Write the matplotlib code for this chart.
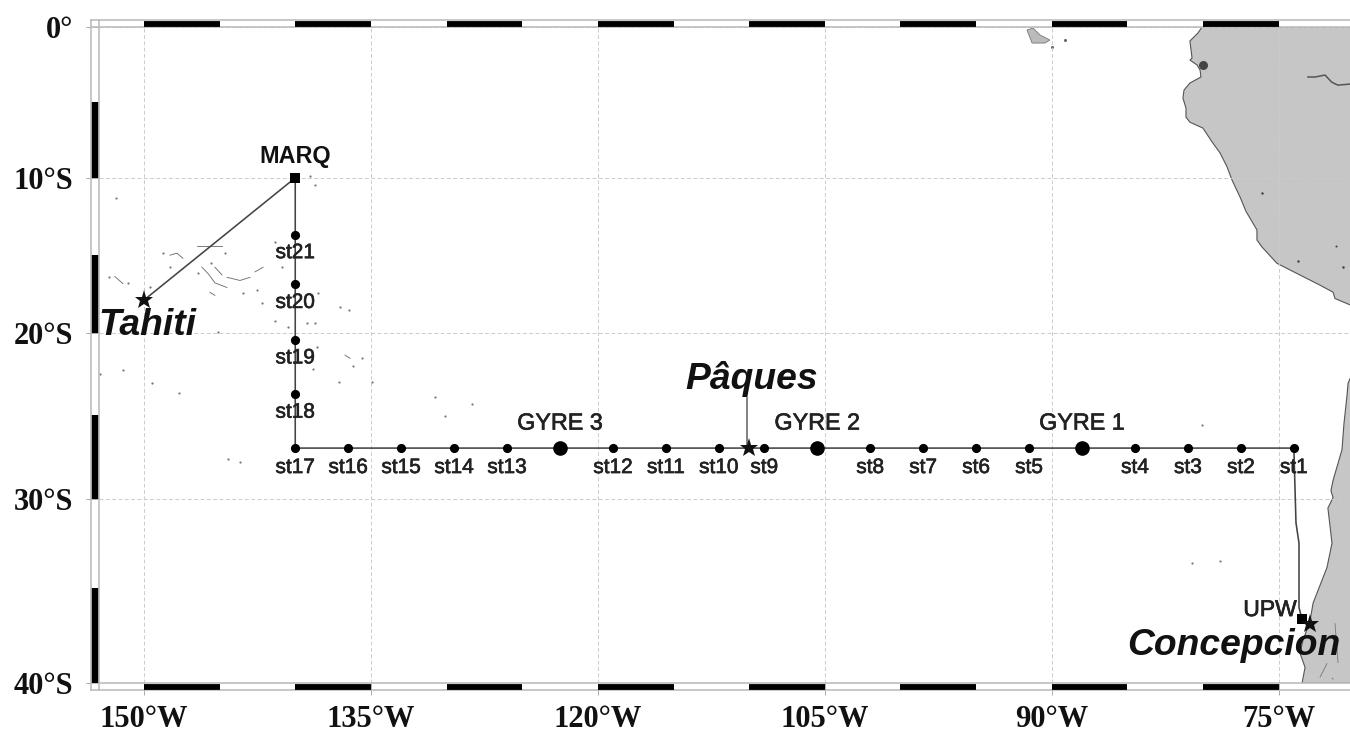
import numpy as np
import matplotlib
matplotlib.use("Agg")
import matplotlib.pyplot as plt
import matplotlib.patheffects as pe
from matplotlib.transforms import blended_transform_factory

# longitudes in degrees east (negative = west), latitudes in degrees south
station_names = ["st1","st2","st3","st4","st5","st6","st7","st8","st9","st10","st11",
                 "st12","st13","st14","st15","st16","st17"]
station_lon = [-74.0,-77.5,-81.0,-84.5,-91.5,-95.0,-98.5,-102.0,-109.0,-112.0,-115.5,
               -119.0,-126.0,-129.5,-133.0,-136.5,-140.0]
station_lat = [27.0]*17
north_names = ["st18","st19","st20","st21"]
north_lon = [-140.0,-140.0,-140.0,-140.0]
north_lat = [23.75,20.4,16.9,13.7]
gyre_names = ["GYRE 1","GYRE 2","GYRE 3"]
gyre_lon = [-88.0,-105.5,-122.5]
gyre_lat = [27.0,27.0,27.0]
marq_lon, marq_lat = -140.0, 10.0
star_names = ["Tahiti","Pâques","Concepcion"]
star_lon = [-150.0,-110.0,-72.93]
star_lat = [17.9,27.0,36.9]
label_lon = [-149.8,-109.84,-77.96]
label_lat = [19.5,22.8,38.05]
upw_lon, upw_lat = -73.46, 36.65
upw_label_lon, upw_label_lat = -75.58, 36.15
route_lon = [-150.0,-140.0,-140.0,-74.0,-73.86,-73.66,-73.66,-73.46,-72.93]
route_lat = [17.9,10.0,27.0,27.0,31.35,32.5,36.05,36.65,36.9]
paques_stem_lon = [-110.15,-110.15]
paques_stem_lat = [24.0,27.0]

coast_lon = [-80.07,-80.34,-80.87,-80.73,-80.87,-80.4,-80.2,-80.14,-80.87,-81.26,-81.33,-81.13,
             -81.13,-80.87,-80.01,-79.41,-78.88,-78.42,-78.09,-77.56,-77.16,-76.44,-76.44,-76.11,
             -75.12,-73.6,-72.27,-71.41,-71.28,-70.29,-69.5,-69.5,-70.29,-70.42,-70.49,-70.69,-70.82,
             -71.41,-71.55,-71.41,-71.75,-71.48,-71.81,-72.73,-72.93,-73.4,-73.6,-73.26,-73.46,
             -69.5,-69.5]
coast_lat = [0.0,0.4,0.93,2.07,2.2,2.53,2.87,3.33,3.73,4.2,4.73,5.4,
             6.0,6.33,6.72,7.63,8.36,9.27,10.14,11.25,12.2,13.4,14.05,14.5,
             15.55,16.3,16.95,17.4,17.8,18.2,18.2,22.8,22.8,23.1,23.85,25.55,27.1,
             28.9,29.5,29.9,30.5,32.5,33.85,35.8,36.75,37.8,38.45,39.2,40.0,
             40.0,0.0]
border_lon = [-73.07,-72.6,-71.94,-71.5,-71.1,-70.29]
border_lat = [3.33,3.33,3.2,3.67,3.87,3.8]
land_marks = [([-71.28,-71.08],[36.9,38.95]),
              ([-72.27,-71.81],[39.7,39.0]),
              ([-71.48,-71.4],[39.75,39.8])]
land_dot_lon = [-80.0,-76.1,-71.2,-73.7,-70.75]
land_dot_lat = [2.53,11.0,14.45,15.4,15.8]
land_dot_size = [6.5,1.8,1.5,1.8,1.8]

galapagos_lon = [-91.64,-91.24,-90.78,-90.12,-90.45,-91.3]
galapagos_lat = [0.2,0.07,0.53,0.87,1.07,1.07]
galapagos_dot_lon = [-89.97,-89.1]
galapagos_dot_lat = [1.33,0.87]

atoll_lines = [
    ([-148.28,-147.82,-147.42],[15.03,14.9,15.23]),
    ([-146.17,-145.77,-145.31,-144.51],[15.8,16.2,16.8,17.1]),
    ([-145.31,-144.84],[15.8,16.3]),
    ([-144.51,-143.65,-142.99],[16.45,16.65,16.45]),
    ([-142.66,-142.13],[16.1,15.8]),
    ([-151.92,-151.39],[16.4,16.85]),
    ([-146.5,-144.84],[14.45,14.45]),
    ([-145.64,-145.31],[17.4,17.6]),
    ([-136.71,-136.38],[21.35,21.55]),
]
atoll_dot_lon = [-152.31,-151.06,-149.6,-148.74,-148.28,-146.43,-145.57,-144.65,-143.46,-142.53,
                 -142.2,-141.34,-140.88,-138.5,-137.05,-136.45,-141.34,-140.48,-139.23,-138.7,
                 -138.57,-135.59,-136.19,-138.83,-134.93,-152.91,-151.39,-149.47,-147.69,-151.85,
                 -139.03,-138.7,-145.11,-137.11,-130.77,-128.32,-130.11,-144.45,-143.65,-80.07,
                 -80.73,-78.88]
atoll_dot_lat = [16.45,16.8,17.05,14.9,15.8,16.2,15.5,14.9,17.45,17.25,
                 18.1,14.2,15.8,17.45,18.35,18.55,19.2,19.6,19.35,19.35,
                 20.85,21.55,22.05,22.2,23.0,22.5,22.25,23.1,23.7,11.3,
                 9.85,10.5,19.9,23.0,23.95,24.35,25.1,27.65,27.85,25.65,
                 33.6,33.5]

lon_ticks = [-150,-135,-120,-105,-90,-75]
lon_labels = ["150°W","135°W","120°W","105°W","90°W","75°W"]
lat_ticks = [0,10,20,30,40]
lat_labels = ["0°","10°S","20°S","30°S","40°S"]
band_lon_starts = [-150,-140,-130,-120,-110,-100,-90,-80]
band_lat_starts = [5,15,25,35]

SERIF = "Liberation Serif"
SANS = "Liberation Sans"
W, H = 1350, 733
L, R, T, B = 99, 1350, 27, 683

def merc(y):
    y = np.clip(np.asarray(y, dtype=float), -85, 85)
    return np.degrees(np.log(np.tan(np.pi/4 + np.radians(y)/2)))
def imerc(m):
    return np.degrees(2*np.arctan(np.exp(np.radians(np.asarray(m, dtype=float)))) - np.pi/2)

fig = plt.figure(figsize=(W/100, H/100), dpi=100)
ax = fig.add_axes([L/W, (H-B)/H, (R-L)/W, (B-T)/H])
ax.set_yscale("function", functions=(merc, imerc))
ax.set_xlim(-152.97, -70.29)
ax.set_ylim(40, 0)
for s in ax.spines.values():
    s.set_visible(False)

ax.set_xticks(lon_ticks, lon_labels)
ax.set_yticks(lat_ticks, lat_labels)
ax.minorticks_off()
ax.tick_params(axis="x", length=8.6, width=0.7, color="#aaaaaa", pad=7)
ax.tick_params(axis="y", length=9.4, width=0.7, color="#aaaaaa", pad=9)
for t in ax.get_xticklabels() + ax.get_yticklabels():
    t.set_fontfamily(SERIF); t.set_fontweight("bold"); t.set_fontsize(22); t.set_color("#111111")
ax.set_axisbelow(False)
ax.grid(True, color="#cccccc", lw=0.7, ls=(0, (4, 2.5)))

# land
ax.fill(coast_lon, coast_lat, facecolor="#c6c6c6", edgecolor="#555555", lw=0.8, zorder=1)
ax.plot(border_lon, border_lat, color="#555555", lw=1.1, zorder=1.5)
for xs, ys in land_marks:
    ax.plot(xs, ys, color="#777777", lw=0.6, zorder=1.5)
for x, y, s in zip(land_dot_lon, land_dot_lat, land_dot_size):
    ax.plot(x, y, "o", color="#444444", ms=s, mew=0, zorder=1.5)
ax.fill(galapagos_lon, galapagos_lat, facecolor="#bbbbbb", edgecolor="#777777", lw=0.6, zorder=1)
ax.plot(galapagos_dot_lon, galapagos_dot_lat, "o", color="#666666", ms=2.2, mew=0, zorder=1)
for xs, ys in atoll_lines:
    ax.plot(xs, ys, color="#666666", lw=0.6, zorder=1)
ax.plot(atoll_dot_lon, atoll_dot_lat, "o", color="#777777", ms=1.6, mew=0, zorder=1)

# cruise track
ax.plot(route_lon, route_lat, color="#444444", lw=1.15, zorder=3, clip_on=False)
ax.plot(paques_stem_lon, paques_stem_lat, color="#777777", lw=1.3, zorder=3)
ax.plot(station_lon, station_lat, "o", color="black", ms=6.6, mew=0, zorder=4)
ax.plot(north_lon, north_lat, "o", color="black", ms=6.6, mew=0, zorder=4)
ax.plot(gyre_lon, gyre_lat, "o", color="black", ms=10.5, mew=0, zorder=4)
ax.plot(marq_lon, marq_lat, "s", color="black", ms=7.2, mew=0, zorder=4)
ax.plot(upw_lon, upw_lat, "s", color="black", ms=6.6, mew=0, zorder=4)
ax.plot(star_lon, star_lat, "*", color="#111111", ms=14, mew=0, zorder=4)

thick = [pe.withStroke(linewidth=0.45, foreground="#222222")]

def lab(txt, x, y, dy, size):
    ax.annotate(txt, (x, y), xytext=(0, dy), textcoords="offset points", ha="center", va="center",
                family=SANS, fontsize=size, color="#222222", zorder=5, path_effects=thick)

for n, x, y in zip(station_names, station_lon, station_lat):
    lab(n, x, y, -14, 15)
for n, x, y in zip(north_names, north_lon, north_lat):
    lab(n, x, y, -13, 15)
for n, x, y in zip(gyre_names, gyre_lon, gyre_lat):
    lab(n, x, y, 18, 16.8)
ax.annotate("MARQ", (marq_lon, marq_lat), xytext=(0, 15.5), textcoords="offset points", ha="center",
            va="center", family=SANS, fontsize=16.8, color="#111111", fontweight="bold", zorder=5)
ax.text(upw_label_lon, upw_label_lat, "UPW", ha="center", va="center", family=SANS, fontsize=16.5,
        color="#222222", zorder=5, path_effects=thick)
for n, x, y in zip(star_names, label_lon, label_lat):
    ax.text(x, y, n, ha="center", va="center", family=SANS, fontsize=26.8, fontweight="bold",
            fontstyle="italic", color="#111111", zorder=6, clip_on=False)

# frame bands with alternating black and white pieces
tx = blended_transform_factory(ax.transData, ax.transAxes)
ty = blended_transform_factory(ax.transAxes, ax.transData)
gray = "#bdbdbd"
band_h = 7.0/(B-T)
band_w = 8.0/(R-L)
for y0, y1 in [(1.0, 1.0+band_h), (0.0, -band_h)]:
    for yy in (y0, y1):
        ax.plot([0-band_w, 1], [yy, yy], transform=ax.transAxes, color=gray, lw=1.2, clip_on=False, zorder=7)
    for x in band_lon_starts:
        ax.plot([x, x+5], [(y0+y1)/2]*2, transform=tx, color="black", lw=4.2, solid_capstyle="butt",
                clip_on=False, zorder=8)
for xx in (0.0, -band_w):
    ax.plot([xx, xx], [-band_h, 1+band_h], transform=ax.transAxes, color=gray, lw=1.2, clip_on=False, zorder=7)
for y in band_lat_starts:
    ax.plot([-band_w/2]*2, [y, y+5], transform=ty, color="black", lw=4.6, solid_capstyle="butt",
            clip_on=False, zorder=8)

fig.savefig("out.png", dpi=100, facecolor="white")
